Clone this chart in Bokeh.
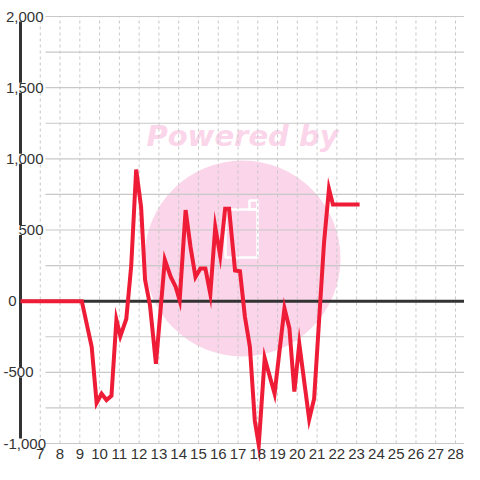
from bokeh.plotting import figure
from bokeh.models import Range1d, ColumnDataSource, LabelSet
from bokeh.core.properties import value
from bokeh.embed import file_html
from bokeh.resources import INLINE

# ---- data ----
x_vals = [6, 9.1, 9.6, 9.85, 10.1, 10.35, 10.6, 10.85, 11.05, 11.35, 11.6, 11.85,
          12.1, 12.3, 12.55, 12.85, 13.3, 13.6, 13.85, 14.05, 14.35, 14.6, 14.85,
          15.1, 15.35, 15.6, 15.85, 16.1, 16.35, 16.55, 16.85, 17.1, 17.35, 17.6,
          17.85, 18.05, 18.35, 18.85, 19.35, 19.6, 19.85, 20.1, 20.6, 20.85, 21.35,
          21.6, 21.8, 23.15]
y_vals = [0, 0, -320, -715, -650, -695, -665, -130, -245, -125, 250, 925,
          660, 150, -30, -440, 290, 170, 100, 5, 640, 380, 170,
          230, 230, 50, 520, 320, 650, 650, 215, 210, -110, -320,
          -840, -1010, -400, -650, -50, -190, -635, -300, -830, -685, 410,
          790, 680, 680]

x_ticks = list(range(7, 29))
x_tick_text = [str(t) for t in x_ticks]
y_label_vals = [2000, 1500, 1000, 500, 0, -500, -1000]
y_label_text = ["2,000", "1,500", "1,000", "500", "0", "-500", "-1,000"]
y_grid_vals = [-1000, -750, -500, -250, 250, 500, 750, 1000, 1250, 1500, 1750, 2000]

W = H = 464
SX = 435.0 / 22.0        # px per x unit
SY = 427.0 / 3000.0      # px per y unit
X_MIN = 6 - 20 / SX
X_MAX = 6 + (W - 20) / SX
Y_MAX = 2000 + 16 / SY
Y_MIN = 2000 - (H - 16) / SY
AXIS_X = 6


def px2x(px):
    return 6 + (px - 20) / SX


def py2y(py):
    return 2000 - (py - 16) / SY


p = figure(width=W, height=H, output_backend="svg", toolbar_location=None,
           x_range=Range1d(X_MIN, X_MAX), y_range=Range1d(Y_MIN, Y_MAX),
           x_axis_location=None, y_axis_location=None,
           min_border=0)
p.outline_line_color = None
p.xgrid.visible = False
p.ygrid.visible = False
p.background_fill_color = "white"
p.border_fill_color = "white"

# ---- watermark (decoration) ----
pink = "#fbd5e9"
p.scatter([px2x(242)], [py2y(258)], size=196, marker="circle",
          fill_color=pink, line_color=None)
p.text([px2x(242)], [py2y(135)], text=["Powered by"], text_align="center",
       text_baseline="middle", text_font=value("DejaVu Sans"),
       text_font_style="bold italic", text_font_size="29px", text_color=pink)
p.quad(left=[px2x(225)], right=[px2x(257)], bottom=[py2y(257)], top=[py2y(209)],
       fill_color=None, line_color="white", line_width=2.5)
p.quad(left=[px2x(249)], right=[px2x(257)], bottom=[py2y(209)], top=[py2y(200)],
       fill_color=None, line_color="white", line_width=2.5)

# ---- grid ----
n = len(x_ticks)
p.segment(x0=x_ticks, x1=x_ticks, y0=[-1000] * n, y1=[2000] * n,
          line_color="#c8c8c8", line_width=1, line_dash="3 3")
m = len(y_grid_vals)
p.segment(x0=[px2x(45)] * m, x1=[X_MAX] * m,
          y0=y_grid_vals, y1=y_grid_vals, line_color="#c8c8c8", line_width=1.2)
# y axis line
p.segment(x0=[AXIS_X], x1=[AXIS_X], y0=[-1000], y1=[2000], line_color="#333333", line_width=3)

# ---- y labels (white background covers grid/axis) ----
groups = [
    ([(v, t) for v, t in zip(y_label_vals, y_label_text) if v > 0], px2x(43), "right"),
    ([(v, t) for v, t in zip(y_label_vals, y_label_text) if v == 0], px2x(12), "center"),
    ([(v, t) for v, t in zip(y_label_vals, y_label_text) if v < 0], px2x(3), "left"),
]
for items, gx, align in groups:
    src = ColumnDataSource(dict(x=[gx] * len(items), y=[v for v, _ in items],
                                t=[t for _, t in items]))
    p.add_layout(LabelSet(x="x", y="y", text="t", source=src, text_align=align,
                          text_baseline="middle", text_font=value("Liberation Sans"),
                          text_font_size="15px", text_color="#333333",
                          background_fill_color="white", level="glyph"))

# zero line and series on top
p.segment(x0=[AXIS_X], x1=[X_MAX], y0=[0], y1=[0], line_color="#333333", line_width=3,
          level="annotation")
p.line(x_vals, y_vals, line_color="#ee1c36", line_width=4, line_join="miter",
       level="annotation")

# ---- x tick labels ----
src_x = ColumnDataSource(dict(x=x_ticks, y=[py2y(453.5)] * n, t=x_tick_text))
p.add_layout(LabelSet(x="x", y="y", text="t", source=src_x, text_align="center",
                      text_baseline="middle", text_font=value("Liberation Sans"),
                      text_font_size="15px", text_color="#333333"))

open("out.html", "w").write(file_html(p, INLINE))
